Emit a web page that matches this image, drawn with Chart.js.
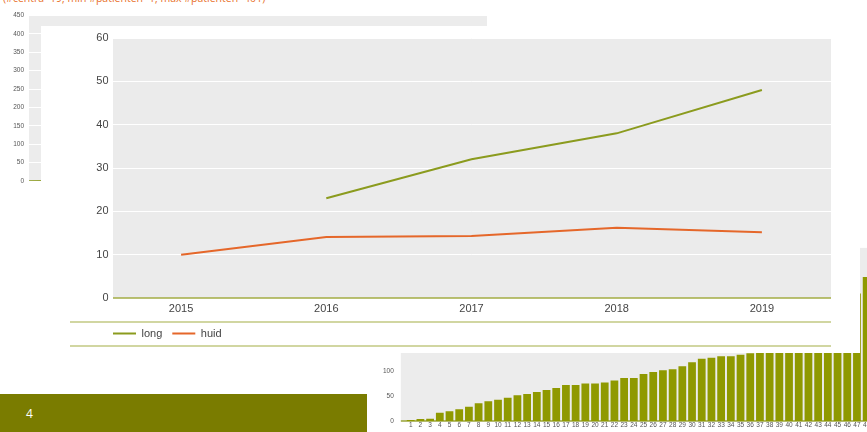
<!DOCTYPE html>
<html>
<head>
<meta charset="utf-8">
<script src="https://cdn.jsdelivr.net/npm/chart.js@4.4.1/dist/chart.umd.min.js"></script>
<style>
html, body { margin: 0; padding: 0; background: #fff; }
body { position: relative; width: 867px; height: 432px; overflow: hidden; font-family: "Open Sans", sans-serif; }
.box { position: absolute; }
#note { position: absolute; left: 3px; top: -8px; font-size: 10.5px; line-height: 13px; color: #e8702a; white-space: nowrap; }
#back { left: 0; top: 0; }
#bars { left: 380px; top: 232px; }
#card { left: 41px; top: 26px; width: 819px; height: 327px; background: #fff; }
#footer { left: 0; top: 394px; width: 367px; height: 38px; background: #7a7c00; color: #fff; font-size: 12px; }
#footer span { position: absolute; left: 26px; top: 11px; }
</style>
</head>
<body>
<div id="note">(#centra=19; min #patienten=1; max #patienten=401)</div>
<div class="box" id="back"><canvas id="backChart" width="490" height="190"></canvas></div>
<div class="box" id="bars"><canvas id="barChart" width="500" height="205"></canvas></div>
<div class="box" id="card"><canvas id="mainChart" width="819" height="327"></canvas></div>
<div class="box" id="footer"><span>4</span></div>

<script>
// main chart
var years = ['2015', '2016', '2017', '2018', '2019'];
var longData = [null, 23, 32, 38, 48];
var huidData = [10, 14.1, 14.3, 16.2, 15.2];
var yTicksMain = [0, 10, 20, 30, 40, 50, 60];

// chart behind, mostly hidden
var backLabels = ['2015', '2016', '2017', '2018', '2019'];
var backValues = [0, 3, 40, 160, 401];

// bar chart bottom right
var barLabels = [1, 2, 3, 4, 5, 6, 7, 8, 9, 10, 11, 12, 13, 14, 15, 16, 17, 18, 19, 20, 21, 22, 23, 24,
    25, 26, 27, 28, 29, 30, 31, 32, 33, 34, 35, 36, 37, 38, 39, 40, 41, 42, 43, 44, 45, 46, 47, 48];
var barValues = [2, 4, 5, 17, 20, 24, 29, 36, 40, 43, 47, 52, 55, 59, 63, 67, 73, 73, 76, 76, 78, 82, 87, 87,
    95, 99, 103, 105, 111, 119, 126, 128, 131, 131, 134, 137, 139, 141, 144, 148, 153, 160, 170, 182, 200, 225, 258, 291];

var olive = '#8b9b1e';
var orange = '#e5672a';

// grey plot background + coloured base line
var plotBg = {
    id: 'plotBg',
    afterLayout: function(chart, args, opts) {
        // legend starts where the grey plot starts
        if (opts.legendX !== undefined && chart.legend) {
            chart.legend.left = chart.chartArea.left + opts.legendX;
        }
    },
    beforeDraw: function(chart, args, opts) {
        var a = chart.chartArea, c = chart.ctx;
        c.save();
        c.fillStyle = opts.color;
        c.fillRect(a.left + opts.padL, a.top, a.right - a.left - opts.padL - opts.padR, a.bottom - a.top);
        c.restore();
    },
    beforeDatasetsDraw: function(chart, args, opts) {
        if (!opts.axisColor) return;
        var a = chart.chartArea, c = chart.ctx;
        c.save();
        c.strokeStyle = opts.axisColor;
        c.lineWidth = 1.5;
        c.beginPath();
        c.moveTo(a.left + opts.padL, a.bottom);
        c.lineTo(a.right - opts.padR, a.bottom);
        c.stroke();
        c.restore();
    },
    afterDraw: function(chart, args, opts) {
        if (!opts.rules) return;
        var a = chart.chartArea, c = chart.ctx;
        c.save();
        c.strokeStyle = '#a3ad45';
        c.lineWidth = 1.2;
        opts.rules.forEach(function(off) {
            c.beginPath();
            c.moveTo(29, a.bottom + off);
            c.lineTo(a.right - opts.padR, a.bottom + off);
            c.stroke();
        });
        c.restore();
    }
};

new Chart(document.getElementById('backChart').getContext('2d'), {
    type: 'line',
    data: {
        labels: backLabels,
        datasets: [{ label: 'long', data: backValues, borderColor: olive, borderWidth: 1.5, pointRadius: 0 }]
    },
    options: {
        responsive: false,
        animation: false,
        layout: { padding: { left: 0, top: 15.5, right: 3, bottom: 9 } },
        plugins: {
            legend: { display: false },
            tooltip: { enabled: false },
            plotBg: { color: '#ececec', padL: 0, padR: 0 }
        },
        scales: {
            x: { display: false, offset: false },
            y: {
                min: 0, max: 450,
                ticks: { stepSize: 50, color: '#555', font: { size: 6.5 }, padding: 5 },
                grid: { color: '#fff', drawTicks: false },
                border: { display: false },
                afterFit: function(s) { s.width = 29; }
            }
        }
    },
    plugins: [plotBg]
});

new Chart(document.getElementById('barChart').getContext('2d'), {
    type: 'bar',
    data: {
        labels: barLabels,
        datasets: [{ data: barValues, backgroundColor: '#8f9900', barPercentage: 0.8, categoryPercentage: 1 }]
    },
    options: {
        responsive: false,
        animation: false,
        layout: { padding: { left: 0, top: 0, right: 8.5, bottom: 0 } },
        plugins: {
            legend: { display: false },
            tooltip: { enabled: false },
            plotBg: { color: '#ececec', padL: -5, padR: 0, axisColor: '#9aa43a' }
        },
        scales: {
            x: {
                grid: { display: false, drawTicks: false },
                border: { display: false },
                ticks: { autoSkip: false, maxRotation: 0, color: '#555', font: { size: 6.5 }, padding: 0 },
                afterFit: function(s) { s.height = 11.3; }
            },
            y: {
                min: 0, max: 350,
                ticks: { stepSize: 50, color: '#555', font: { size: 6.5 }, padding: 12 },
                grid: { display: false, drawTicks: false },
                border: { display: false },
                afterFit: function(s) { s.width = 25.85; }
            }
        }
    },
    plugins: [plotBg]
});

new Chart(document.getElementById('mainChart').getContext('2d'), {
    type: 'line',
    data: {
        labels: years,
        datasets: [
            { label: 'long', data: longData, borderColor: olive, backgroundColor: olive, borderWidth: 2, pointRadius: 0, tension: 0 },
            { label: 'huid', data: huidData, borderColor: orange, backgroundColor: orange, borderWidth: 2, pointRadius: 0, tension: 0 }
        ]
    },
    options: {
        responsive: false,
        animation: false,
        layout: { padding: { left: 37.5, top: 12, right: 25.5, bottom: 4 } },
        plugins: {
            legend: {
                position: 'bottom',
                align: 'start',
                labels: {
                    usePointStyle: true, pointStyle: 'line', pointStyleWidth: 23,
                    padding: 10, color: '#444', font: { size: 11 }
                }
            },
            tooltip: { enabled: false },
            plotBg: { color: '#ebebeb', padL: 4.5, padR: 3.5, axisColor: '#a3ad45', rules: [24, 48], legendX: -5.5 }
        },
        scales: {
            x: {
                offset: true,
                grid: { display: false, drawTicks: false },
                border: { display: false },
                ticks: { color: '#444', font: { size: 11 }, padding: 4 },
                afterFit: function(s) { s.height = 20; }
            },
            y: {
                min: 0, max: 60,
                afterBuildTicks: function(s) { s.ticks = yTicksMain.map(function(v) { return { value: v }; }); },
                ticks: { color: '#444', font: { size: 11 }, padding: 0 },
                grid: { color: '#fff', lineWidth: 1, drawTicks: false },
                border: { display: false },
                afterFit: function(s) { s.width = 30; }
            }
        }
    },
    plugins: [plotBg]
});
</script>
</body>
</html>
